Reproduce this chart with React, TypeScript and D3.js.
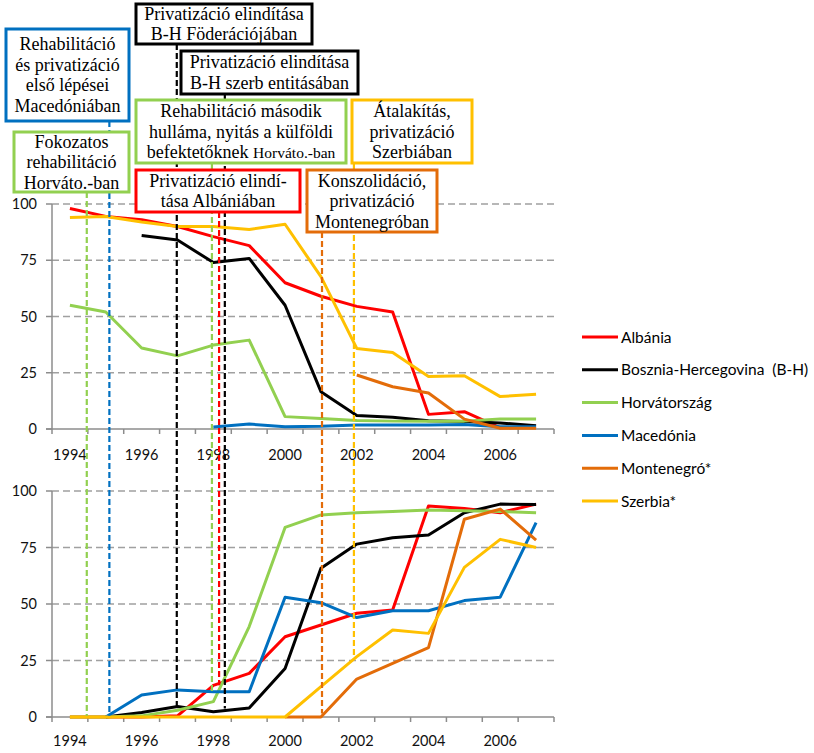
import React from "react";
import * as d3 from "d3";

const years = [1994, 1995, 1996, 1997, 1998, 1999, 2000, 2001, 2002, 2003, 2004, 2005, 2006, 2007];
const yearLabels = ["1994", "1996", "1998", "2000", "2002", "2004", "2006"];
const yTicks = [0, 25, 50, 75, 100];

const seriesNames = ["Albánia", "Bosznia-Hercegovina  (B-H)", "Horvátország", "Macedónia", "Montenegró*", "Szerbia*"];
const seriesColors = ["#FF0000", "#000000", "#92D050", "#0070C0", "#E36C09", "#FFC000"];

// upper panel
const albaniaTop = [98, 94.5, 93, 90, 85.5, 81.5, 65, 59, 54.5, 52, 6.5, 7.7, 0.5, 1];
const bihTop = [null, null, 86, 84, 74, 75.8, 55, 16.6, 6, 5.2, 3.7, 3.3, 2.7, 1.5];
const croatiaTop = [55, 52, 36, 32.5, 37.3, 39.5, 5.5, 4.7, 3.8, 3.5, 3.5, 3.5, 4.4, 4.4];
const macedoniaTop = [null, null, null, null, 0.9, 2.2, 1, 1.2, 1.8, 1.8, 1.8, 2, 1, 1];
const montenegroTop = [null, null, null, null, null, null, null, null, 24, 18.8, 16, 4.4, 0.3, 0.3];
const serbiaTop = [94, 94.4, 92, 90, 90, 88.7, 91, 67.7, 35.8, 34, 23.3, 23.7, 14.4, 15.4];

// lower panel
const albaniaBot = [0, 0, 0, 0.5, 14, 19.3, 35.5, 40.7, 45.9, 47.3, 93.4, 92.3, 90.4, 94.2];
const bihBot = [null, 0, 2, 4.6, 2.3, 4, 21.5, 65.8, 76.5, 79.3, 80.5, 90.4, 94.2, 94];
const croatiaBot = [0, 0, 0.5, 3, 6.8, 40, 83.9, 89.4, 90.4, 90.9, 91.6, 91.3, 90.9, 90.4];
const macedoniaBot = [null, 0, 9.7, 12, 11.2, 11.2, 53, 50.6, 44, 47, 47, 51.5, 53, 86];
const montenegroBot = [null, null, null, null, null, null, 0, 0, 16.8, 23.7, 30.7, 87.5, 92, 78.3];
const serbiaBot = [0, 0, 0, 0, 0, 0, 0, 13.4, 26.7, 38.5, 37, 66.2, 78.6, 75];

const topSeries = [albaniaTop, bihTop, croatiaTop, macedoniaTop, montenegroTop, serbiaTop];
const botSeries = [albaniaBot, bihBot, croatiaBot, macedoniaBot, montenegroBot, serbiaBot];

// annotations: text lines, colour, event date (fractional year), value where the dashed line stops (lower panel)
const noteTexts = [
  ["Privatizáció elindítása", "B-H Föderációjában"],
  ["Privatizáció elindítása", "B-H szerb entitásában"],
  ["Rehabilitáció", "és privatizáció", "első lépései", "Macedóniában"],
  ["Fokozatos", "rehabilitáció", "Horváto.-ban"],
  ["Rehabilitáció második", "hulláma, nyitás a külföldi", "befektetőknek|Horváto.-ban"],
  ["Átalakítás,", "privatizáció", "Szerbiában"],
  ["Privatizáció elindí-", "tása Albániában"],
  ["Konszolidáció,", "privatizáció", "Montenegróban"],
];
const noteColors = ["#000000", "#000000", "#0070C0", "#92D050", "#92D050", "#FFC000", "#FF0000", "#E36C09"];
const noteYears = [1996.98, 1998.32, 1995.1, 1994.47, 1997.96, 2001.92, 1998.16, 2001.03];
const noteEnds = [4.4, 3.8, 0.5, 0.5, 10.6, 27, 14, 1.5];

// layout of annotation boxes (x, y, w, h)
const boxLayout = [
  [136, 4, 176, 40],
  [181, 51, 177, 43],
  [6, 29, 123, 92],
  [14, 132, 115, 60],
  [136, 100, 210, 63],
  [352, 100, 120, 63],
  [136, 170, 164, 42],
  [307, 170, 130, 62],
];

export default function App() {
  const W = 814;
  const H = 753;
  const left = 52;
  const right = 554;
  const xb = d3.scaleBand<number>().domain(years).range([left, right]);
  const bw = xb.bandwidth();
  const xc = (yr: number) => (xb(yr) as number) + bw / 2;
  const xl = d3.scaleLinear().domain([1994, 2007]).range([xc(1994), xc(2007)]);
  const yTop = d3.scaleLinear().domain([0, 100]).range([429, 204]);
  const yBot = d3.scaleLinear().domain([0, 100]).range([717, 491]);

  const mkLine = (ys: d3.ScaleLinear<number, number>) =>
    d3
      .line<number | null>()
      .defined((d) => d != null)
      .x((_, i) => xc(years[i]))
      .y((d) => ys(d as number));

  const tickFont = "Lato, 'Open Sans', sans-serif";
  const axisColor = "#8c8c8c";
  const gridColor = "#a0a0a0";

  const panel = (ys: d3.ScaleLinear<number, number>, data: (number | null)[][], labelY: number, key: string) => {
    const y0 = ys(0);
    const boundaries = years.map((yr) => xb(yr) as number).concat([right]);
    const line = mkLine(ys);
    return (
      <g key={key}>
        {yTicks
          .filter((t) => t > 0)
          .map((t) => (
            <line key={"g" + t} x1={left} x2={right} y1={ys(t)} y2={ys(t)} stroke={gridColor} strokeWidth={1.5} strokeDasharray="7,4" />
          ))}
        <line x1={left} x2={left} y1={ys(100)} y2={y0} stroke={axisColor} strokeWidth={1.5} />
        <line x1={left - 6} x2={right} y1={y0} y2={y0} stroke={axisColor} strokeWidth={1.5} />
        {yTicks.map((t) => (
          <g key={"yt" + t}>
            <line x1={left - 6} x2={left} y1={ys(t)} y2={ys(t)} stroke={axisColor} strokeWidth={1.5} />
            <text x={37} y={ys(t) + 5} textAnchor="end" fontFamily={tickFont} fontSize={14.5} fill="#111">
              {t}
            </text>
          </g>
        ))}
        {boundaries.map((bx, i) => (
          <line key={"xt" + i} x1={bx} x2={bx} y1={y0} y2={y0 + 5} stroke={axisColor} strokeWidth={1.5} />
        ))}
        {yearLabels.map((lab) => (
          <text key={"xl" + lab} x={xc(+lab)} y={labelY} textAnchor="middle" fontFamily={tickFont} fontSize={14.5} fill="#111">
            {lab}
          </text>
        ))}
        {data.map((d, i) => (
          <path key={"s" + i} d={line(d) || ""} fill="none" stroke={seriesColors[i]} strokeWidth={3} strokeLinejoin="round" />
        ))}
      </g>
    );
  };

  const lh = 20.5;

  return (
    <svg width={W} height={H} style={{ position: "absolute", left: 0, top: 0, background: "#fff" }}>
      <rect x={0} y={0} width={W} height={H} fill="#fff" />
      {panel(yTop, topSeries, 460, "top")}
      {panel(yBot, botSeries, 746, "bot")}

      {/* dashed event lines */}
      {noteYears.map((yr, i) => {
        const b = boxLayout[i];
        return (
          <line
            key={"ev" + i}
            x1={xl(yr)}
            x2={xl(yr)}
            y1={b[1] + b[3]}
            y2={yBot(noteEnds[i])}
            stroke={noteColors[i]}
            strokeWidth={2.2}
            strokeDasharray="6,3"
          />
        );
      })}

      {/* annotation boxes */}
      {noteTexts.map((lines, i) => {
        const [bx, by, bwid, bh] = boxLayout[i];
        const cx = bx + bwid / 2;
        const cy = by + bh / 2;
        const first = cy - ((lines.length - 1) * lh) / 2 + 6;
        return (
          <g key={"nb" + i}>
            <rect x={bx} y={by} width={bwid} height={bh} fill="#fff" stroke={noteColors[i]} strokeWidth={3} />
            {lines.map((ln, j) => {
              const parts = ln.split("|");
              return (
                <text
                  key={j}
                  x={cx}
                  y={first + j * lh}
                  textAnchor="middle"
                  fontFamily="'Liberation Serif', 'Times New Roman', serif"
                  fontSize={18}
                  fill="#000"
                >
                  {parts.length > 1 ? (
                    <>
                      <tspan>{parts[0] + " "}</tspan>
                      <tspan fontSize={15.5}>{parts[1]}</tspan>
                    </>
                  ) : (
                    ln
                  )}
                </text>
              );
            })}
          </g>
        );
      })}

      {/* legend */}
      {seriesNames.map((name, i) => {
        const ly = 337 + i * 32.8;
        return (
          <g key={"lg" + i}>
            <line x1={582} x2={618} y1={ly} y2={ly} stroke={seriesColors[i]} strokeWidth={3} />
            <text x={621} y={ly + 5.5} fontFamily={tickFont} fontSize={15.5} fill="#000" style={{ whiteSpace: "pre" }}>
              {name}
            </text>
          </g>
        );
      })}
    </svg>
  );
}
